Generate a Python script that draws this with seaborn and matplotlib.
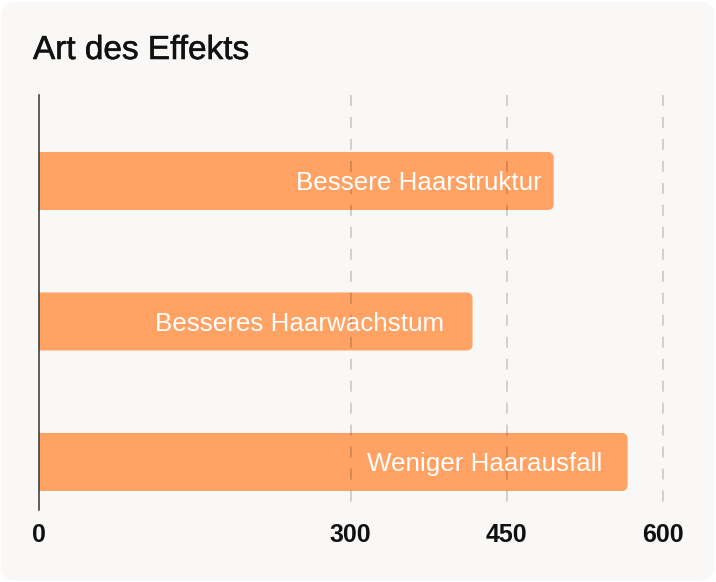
import matplotlib
matplotlib.use("Agg")
import matplotlib.pyplot as plt
from matplotlib.patches import FancyBboxPatch
from matplotlib.transforms import IdentityTransform
import matplotlib.patheffects as pe
import seaborn as sns
import pandas as pd

# ---- data ----
categories = ["Bessere Haarstruktur", "Besseres Haarwachstum", "Weniger Haarausfall"]
values = [495, 417, 566]
tick_values = [0, 300, 450, 600]
tick_labels = ["0", "300", "450", "600"]
title = "Art des Effekts"

sns.set_theme(style="white")
plt.rcParams['font.family'] = ['Liberation Sans', 'DejaVu Sans']

W, H, DPI = 716, 582, 100
fig = plt.figure(figsize=(W / DPI, H / DPI), dpi=DPI)
fig.patch.set_facecolor("white")

# rounded panel background
panel = FancyBboxPatch((1, 1), W - 2, H - 3, boxstyle="round,pad=0,rounding_size=16",
                       transform=IdentityTransform(), facecolor="#F9F8F6",
                       edgecolor="none", zorder=-10)
fig.patches.append(panel)

ax_left, ax_right, ax_top, ax_bottom = 38.5, 663, 95, 510
ax = fig.add_axes([ax_left / W, 1 - ax_bottom / H, (ax_right - ax_left) / W, (ax_bottom - ax_top) / H])
ax.set_facecolor("none")

df = pd.DataFrame({"cat": categories, "val": values})
bar_color = "#FFA263"
sns.barplot(data=df, x="val", y="cat", orient="h", color=bar_color, saturation=1,
            width=0.413, ax=ax, zorder=2)

ax.set_xlim(0, 600)
ax.set_ylim(2.342, -0.612)

# replace bars by rounded versions
px_per_x = (ax_right - ax_left) / 600.0
px_per_y = (ax_bottom - ax_top) / (2.342 + 0.612)
r_px = 6
rx = r_px / px_per_x
aspect = (r_px / px_per_y) / rx
for p in list(ax.patches):
    x, y = p.get_x(), p.get_y()
    w, h = p.get_width(), p.get_height()
    p.remove()
    fb = FancyBboxPatch((x - 20, y), w + 20, h,
                        boxstyle=f"round,pad=0,rounding_size={rx}",
                        mutation_aspect=aspect, facecolor=bar_color,
                        edgecolor="none", zorder=2, clip_on=True)
    ax.add_patch(fb)

# dashed gridlines (drawn from the top down)
for t in tick_values[1:]:
    ax.axvline(t, ymin=1, ymax=0, color="black", alpha=0.16, lw=1.4, ls=(0, (5.65, 5.65)),
               zorder=3, clip_on=False)

# bar labels (inner right padding in px, per bar)
label_pad_px = [12, 28, 25]
for i, (c, v) in enumerate(zip(categories, values)):
    ax.annotate(c, xy=(v, i), xytext=(-label_pad_px[i] * 0.72, 0), textcoords="offset points",
                ha="right", va="center_baseline", color="white", fontsize=18.7, zorder=4)

for s in ["top", "right", "bottom"]:
    ax.spines[s].set_visible(False)
ax.spines["left"].set_color("#333333")
ax.spines["left"].set_linewidth(1.1)

ax.set_xticks(tick_values, tick_labels)
ax.set_yticks([])
ax.tick_params(axis="x", length=0, pad=9, labelsize=18, labelcolor="#111111")
for lbl in ax.get_xticklabels():
    lbl.set_fontweight("bold")
ax.set_xlabel("")
ax.set_ylabel("")

fig.text(33 / W, 1 - 59 / H, title, fontsize=24, ha="left", va="baseline", color="#111111",
         path_effects=[pe.withStroke(linewidth=0.4, foreground="#111111")])

fig.savefig("out.png", dpi=DPI)
